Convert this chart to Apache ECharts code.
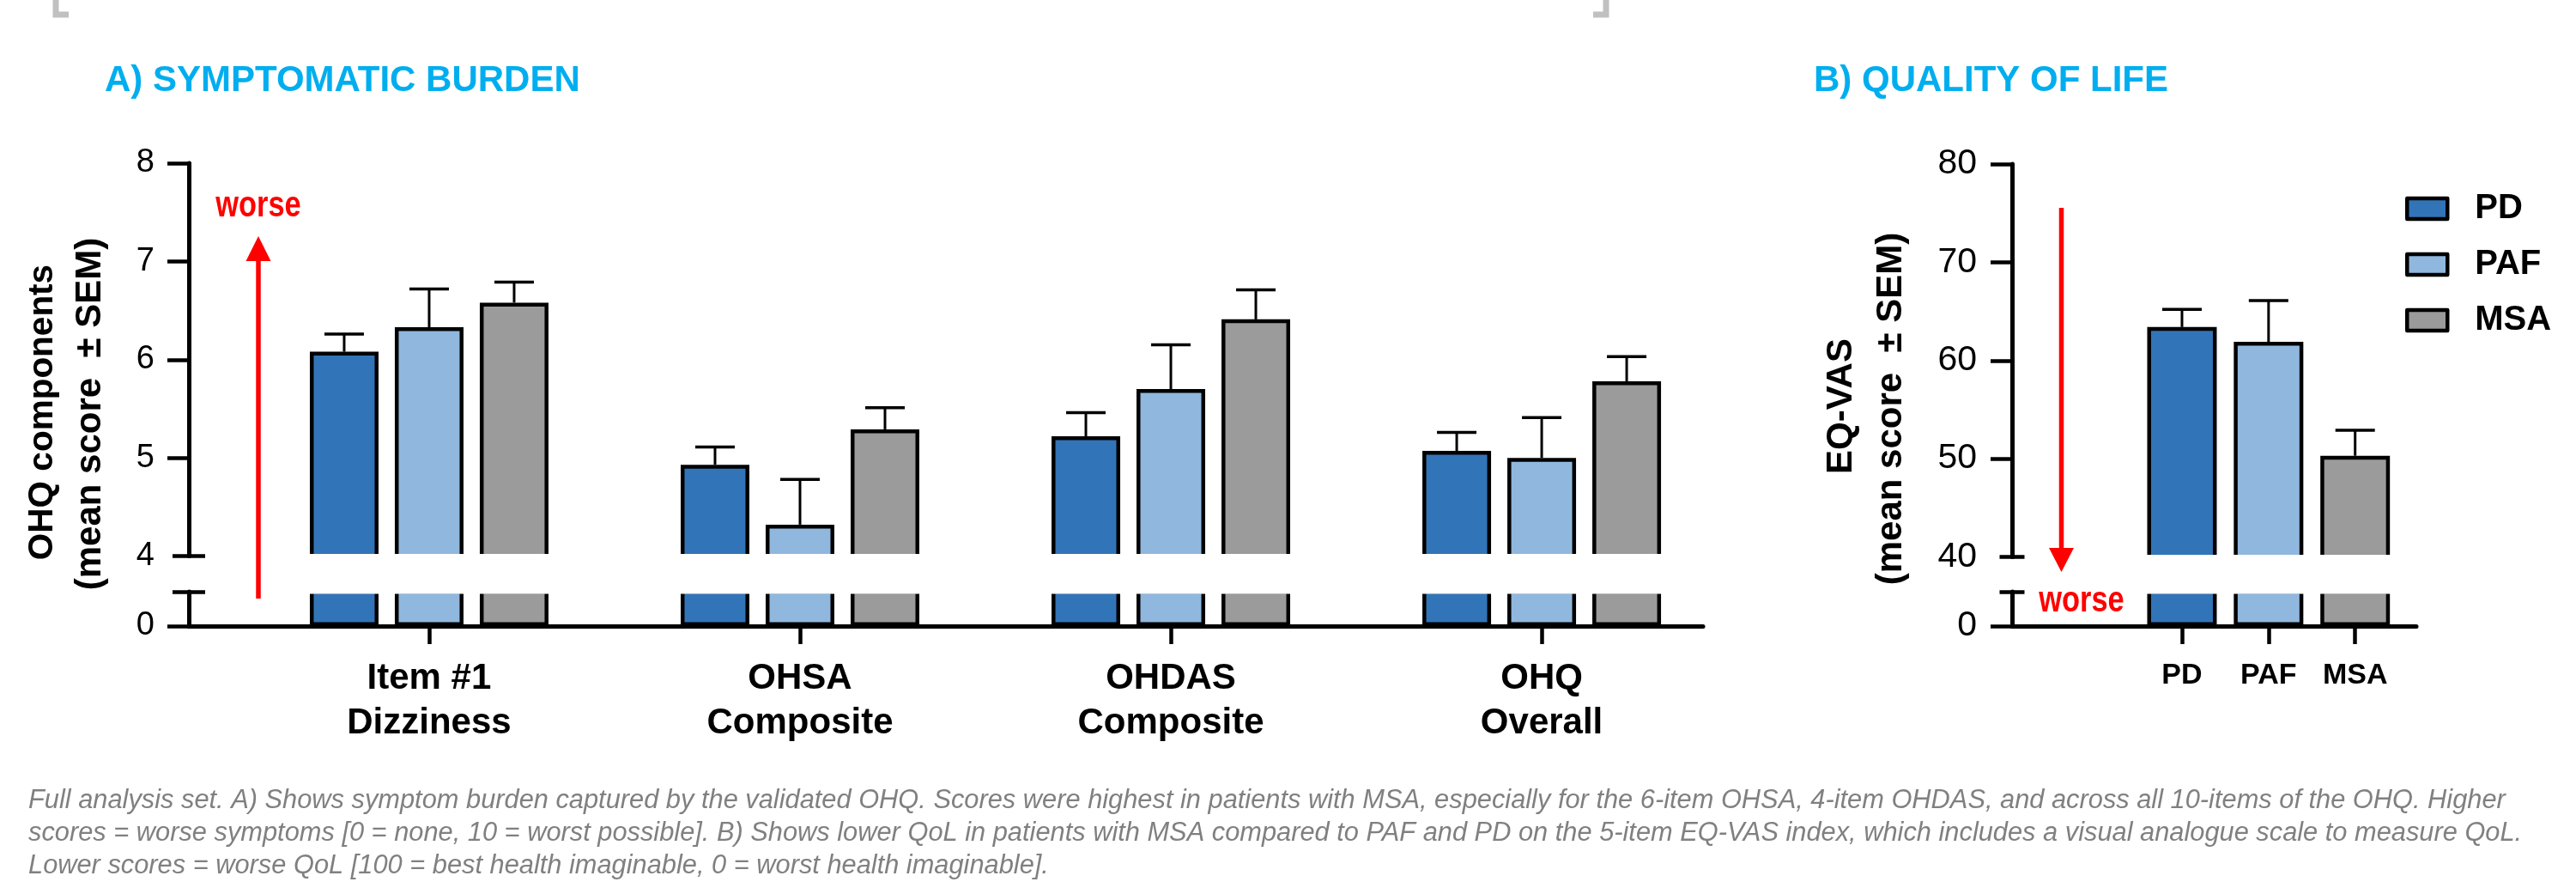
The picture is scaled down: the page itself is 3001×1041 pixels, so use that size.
<!DOCTYPE html>
<html>
<head>
<meta charset="utf-8">
<script src="https://cdn.jsdelivr.net/npm/echarts@6/dist/echarts.min.js"></script>
<style>
  html, body { margin: 0; padding: 0; background: #ffffff; }
  #chart { width: 3001px; height: 1041px; }
</style>
</head>
<body>
<div id="chart"></div>
<script>
// ---- Panel A: OHQ components, mean score and SEM per group ----
const ohqCategories = ['Item #1\nDizziness', 'OHSA\nComposite', 'OHDAS\nComposite', 'OHQ\nOverall'];
const groupNames = ['PD', 'PAF', 'MSA'];
const groupColors = ['#3274b8', '#90b8de', '#9b9b9b'];
const pdMean  = [6.08, 4.93, 5.22, 5.07];
const pdSem   = [0.18, 0.18, 0.24, 0.19];
const pafMean = [6.33, 4.32, 5.70, 5.00];
const pafSem  = [0.39, 0.46, 0.45, 0.41];
const msaMean = [6.58, 5.29, 6.41, 5.78];
const msaSem  = [0.21, 0.22, 0.30, 0.25];
const ohqTicks = [4, 5, 6, 7, 8];
const ohqLowTicks = [0];

// ---- Panel B: EQ-VAS, mean score and SEM per group ----
const vasMean = [63.4, 61.9, 50.3];
const vasSem  = [1.8, 4.2, 2.6];
const vasTicks = [40, 50, 60, 70, 80];
const vasLowTicks = [0];

const footnoteLines = [
  'Full analysis set. A) Shows symptom burden captured by the validated OHQ. Scores were highest in patients with MSA, especially for the 6-item OHSA, 4-item OHDAS, and across all 10-items of the OHQ. Higher',
  'scores = worse symptoms [0 = none, 10 = worst possible]. B) Shows lower QoL in patients with MSA compared to PAF and PD on the 5-item EQ-VAS index, which includes a visual analogue scale to measure QoL.',
  'Lower scores = worse QoL [100 = best health imaginable, 0 = worst health imaginable].'
];

// ---- layout ----
const FONT = "'Liberation Sans', Arial, Helvetica, sans-serif";
const A = { left: 220, right: 1984, top: 190, brk: 647.5, lowTop: 689, base: 729, xMin: -0.648, xMax: 3.435, mark: 19 };
const B = { left: 2344, right: 2815, top: 191, brk: 648.5, lowTop: 689, base: 729, xMin: -1.963, xMax: 2.707, mark: 14.5 };
const BAR_W = 80, BAR_BORDER = 4.5, BAR_GAP = 0.2375;
const PITCH = BAR_W * (1 + BAR_GAP);
const AXIS_W = 5, TICK_W = 4.5;

const meansByGroup = [pdMean, pafMean, msaMean];
const semsByGroup = [pdSem, pafSem, msaSem];

function grid(P, upper) {
  return upper
    ? { left: P.left, top: P.top, width: P.right - P.left, height: P.brk - P.top, outerBoundsMode: 'none' }
    : { left: P.left, top: P.lowTop, width: P.right - P.left, height: P.base - P.lowTop, outerBoundsMode: 'none' };
}

function hiddenX(gi, P) {
  return { type: 'value', gridIndex: gi, position: 'bottom', min: P.xMin, max: P.xMax, show: false };
}

function shownX(gi, P, labels, fontSize, lineHeight, margin) {
  const vals = labels.map((_, i) => i);
  return {
    type: 'value', gridIndex: gi, position: 'bottom', min: P.xMin, max: P.xMax,
    axisLine: { show: true, onZero: false, lineStyle: { color: '#000', width: AXIS_W } },
    axisTick: { show: true, inside: false, length: 21, customValues: vals, lineStyle: { color: '#000', width: TICK_W } },
    axisLabel: {
      show: true, customValues: vals, margin: margin,
      formatter: (v) => labels[Math.round(v)],
      fontFamily: FONT, fontWeight: 'bold', fontSize: fontSize, lineHeight: lineHeight, color: '#000'
    },
    splitLine: { show: false }
  };
}

function valueY(gi, min, max, interval, tickVals, labelVals, fontSize, margin) {
  return {
    type: 'value', gridIndex: gi, position: 'left', min: min, max: max, interval: interval,
    axisLine: { show: true, onZero: false, lineStyle: { color: '#000', width: AXIS_W } },
    axisTick: { show: true, inside: false, length: 25, customValues: tickVals, lineStyle: { color: '#000', width: TICK_W } },
    axisLabel: { show: true, customValues: labelVals, margin: margin, padding: [5, 0, 0, 0],
      fontFamily: FONT, fontSize: fontSize, color: '#000' },
    splitLine: { show: false }
  };
}

// short horizontal marks across the axis where the scale is interrupted
function breakMarkY(gi, min, max, interval, at, half) {
  return {
    type: 'value', gridIndex: gi, position: 'left', min: min, max: max, interval: interval, offset: -half, z: 10,
    axisLine: { show: false, onZero: false },
    axisTick: { show: true, inside: false, length: half * 2, customValues: [at], lineStyle: { color: '#000', width: TICK_W } },
    axisLabel: { show: false },
    splitLine: { show: false }
  };
}

const series = [];
// Panel A bars: upper segment (4-8) and lower segment (near 0)
[0, 1].forEach((gi) => {
  groupNames.forEach((name, g) => {
    series.push({
      type: 'bar', name: name, xAxisIndex: gi, yAxisIndex: gi === 0 ? 0 : 2,
      barWidth: BAR_W, barGap: (BAR_GAP * 100) + '%', clip: true, z: 2,
      itemStyle: { color: groupColors[g], borderColor: '#000', borderWidth: BAR_BORDER },
      emphasis: { disabled: true },
      data: meansByGroup[g].map((v, i) => [i, v])
    });
  });
});
// Panel A error bars (upper half)
const ohqErr = [];
groupNames.forEach((_, g) => meansByGroup[g].forEach((m, i) => ohqErr.push([i, m, semsByGroup[g][i], g])));

function errorBarItem(offsetFn) {
  return function (params, api) {
    const xi = api.value(0), m = api.value(1), s = api.value(2), g = api.value(3);
    const p0 = api.coord([xi, m]);
    const p1 = api.coord([xi, m + s]);
    const x = p0[0] + offsetFn(g);
    return {
      type: 'group',
      children: [
        { type: 'line', shape: { x1: x, y1: p0[1], x2: x, y2: p1[1] }, style: { stroke: '#000', lineWidth: 3 } },
        { type: 'line', shape: { x1: x - 23, y1: p1[1], x2: x + 23, y2: p1[1] }, style: { stroke: '#000', lineWidth: 3.5 } }
      ]
    };
  };
}

series.push({
  type: 'custom', name: 'OHQ SEM', xAxisIndex: 0, yAxisIndex: 0, z: 1, silent: true,
  encode: { x: 0, y: 1 },
  renderItem: errorBarItem((g) => (g - 1) * PITCH),
  data: ohqErr
});

// Panel B bars
const vasData = vasMean.map((v, i) => ({ value: [i, v], itemStyle: { color: groupColors[i] } }));
[2, 3].forEach((gi) => {
  series.push({
    type: 'bar', name: 'EQ-VAS', xAxisIndex: gi, yAxisIndex: gi === 2 ? 4 : 6,
    barWidth: 81, clip: true, z: 2,
    itemStyle: { borderColor: '#000', borderWidth: BAR_BORDER },
    emphasis: { disabled: true },
    data: vasData
  });
});
series.push({
  type: 'custom', name: 'EQ-VAS SEM', xAxisIndex: 2, yAxisIndex: 4, z: 1, silent: true,
  encode: { x: 0, y: 1 },
  renderItem: errorBarItem(() => 0),
  data: vasMean.map((m, i) => [i, m, vasSem[i], i])
});

function rotatedTitle(x, y, text, size) {
  return { type: 'text', x: x, y: y, rotation: Math.PI / 2, silent: true,
    style: { text: text, fill: '#000', font: 'bold ' + size + 'px ' + FONT, align: 'center', verticalAlign: 'middle' } };
}
// condensed red annotation
function redText(x, y, text) {
  return { type: 'text', x: x, y: y, scaleX: 0.8, silent: true, z: 20,
    style: { text: text, fill: '#ff0000', font: 'bold 43px ' + FONT, align: 'center', verticalAlign: 'middle' } };
}
function arrow(x, yTail, yBase, yTip) {
  return { type: 'group', silent: true, z: 20, children: [
    { type: 'line', shape: { x1: x, y1: yTail, x2: x, y2: yBase }, style: { stroke: '#ff0000', lineWidth: 5.5 }, z: 20 },
    { type: 'polygon', shape: { points: [[x - 14.5, yBase], [x + 14.5, yBase], [x, yTip]] }, style: { fill: '#ff0000' }, z: 20 }
  ] };
}
function gapBand(P) {
  return { type: 'rect', silent: true, z: 5,
    shape: { x: P.left + 4, y: P.brk - 2.5, width: P.right - P.left, height: P.lowTop - P.brk + 5 },
    style: { fill: '#ffffff' } };
}

const graphics = [
  // bracket corners of the figure frame
  { type: 'polyline', silent: true, shape: { points: [[65, 0], [65, 17], [80, 17]] }, style: { stroke: '#c0c0c0', lineWidth: 7, fill: null } },
  { type: 'polyline', silent: true, shape: { points: [[1871, 0], [1871, 17], [1856, 17]] }, style: { stroke: '#c0c0c0', lineWidth: 7, fill: null } },
  // panel titles
  { type: 'text', x: 122, y: 94, silent: true, style: { text: 'A) SYMPTOMATIC BURDEN', fill: '#00aeef', font: 'bold 42px ' + FONT, verticalAlign: 'middle' } },
  { type: 'text', x: 2113, y: 94, silent: true, style: { text: 'B) QUALITY OF LIFE', fill: '#00aeef', font: 'bold 42px ' + FONT, verticalAlign: 'middle' } },
  // axis titles
  rotatedTitle(50, 480, 'OHQ components', 40.5),
  rotatedTitle(105, 482, '(mean score  \u00b1 SEM)', 42),
  rotatedTitle(2145, 473, 'EQ-VAS', 42),
  rotatedTitle(2203, 476, '(mean score  \u00b1 SEM)', 42),
  // direction of worse outcome
  redText(301, 240, 'worse'),
  arrow(301, 697, 304, 275),
  redText(2425, 700, 'worse'),
  arrow(2401.5, 242, 638, 666),
  // interrupted scale
  gapBand(A),
  gapBand(B)
];
footnoteLines.forEach((t, i) => {
  graphics.push({ type: 'text', x: 33, y: 932 + i * 38, silent: true,
    style: { text: t, fill: '#808080', font: 'italic 30.8px ' + FONT, verticalAlign: 'middle' } });
});

const option = {
  animation: false,
  backgroundColor: '#ffffff',
  textStyle: { fontFamily: FONT },
  grid: [grid(A, true), grid(A, false), grid(B, true), grid(B, false)],
  xAxis: [
    hiddenX(0, A),
    shownX(1, A, ohqCategories, 42, 52, 35),
    hiddenX(2, B),
    shownX(3, B, groupNames, 34, 36, 40)
  ],
  yAxis: [
    valueY(0, 4, 8, 1, [5, 6, 7, 8], ohqTicks, 38, 40),
    breakMarkY(0, 4, 8, 1, 4, A.mark),
    valueY(1, 0, 1, 1, ohqLowTicks, ohqLowTicks, 38, 40),
    breakMarkY(1, 0, 1, 1, 1, A.mark),
    valueY(2, 40, 80, 10, [50, 60, 70, 80], vasTicks, 41, 41),
    breakMarkY(2, 40, 80, 10, 40, B.mark),
    valueY(3, 0, 10, 10, vasLowTicks, vasLowTicks, 41, 41),
    breakMarkY(3, 0, 10, 10, 10, B.mark)
  ],
  legend: {
    data: groupNames, orient: 'vertical', left: 2802, top: 223, padding: 0,
    itemWidth: 47, itemHeight: 24, itemGap: 25, icon: 'rect', selectedMode: false,
    itemStyle: { borderColor: '#000', borderWidth: BAR_BORDER, borderJoin: 'round' },
    textStyle: { fontFamily: FONT, fontWeight: 'bold', fontSize: 40, lineHeight: 40, color: '#000', padding: [0, 0, 0, 27] }
  },
  graphic: { elements: graphics },
  series: series
};

const chart = echarts.init(document.getElementById('chart'), null, { renderer: 'canvas' });
chart.setOption(option);
</script>
</body>
</html>
